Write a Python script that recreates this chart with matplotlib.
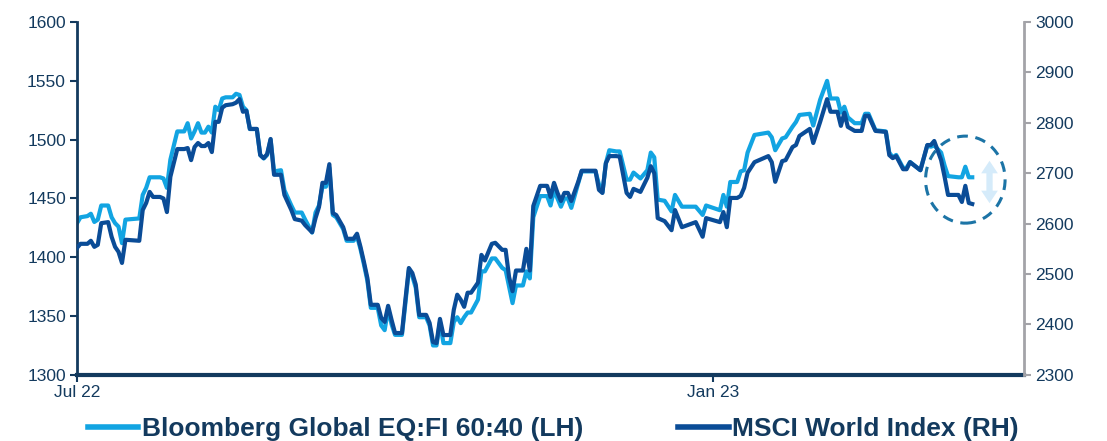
import matplotlib
matplotlib.use('Agg')
import matplotlib.pyplot as plt
import matplotlib.dates as mdates
from matplotlib.patches import Ellipse
from matplotlib.lines import Line2D
import pandas as pd

# dates (x axis)
dates = [
    '2022-07-01', '2022-07-02', '2022-07-04', '2022-07-05', '2022-07-06', '2022-07-07', '2022-07-08',
    '2022-07-10', '2022-07-11', '2022-07-12', '2022-07-13', '2022-07-14', '2022-07-15', '2022-07-19',
    '2022-07-20', '2022-07-21', '2022-07-22', '2022-07-23', '2022-07-25', '2022-07-26', '2022-07-27',
    '2022-07-28', '2022-07-30', '2022-08-01', '2022-08-02', '2022-08-03', '2022-08-04', '2022-08-05',
    '2022-08-06', '2022-08-07', '2022-08-08', '2022-08-09', '2022-08-10', '2022-08-11', '2022-08-12',
    '2022-08-13', '2022-08-15', '2022-08-16', '2022-08-17', '2022-08-18', '2022-08-19', '2022-08-20',
    '2022-08-22', '2022-08-23', '2022-08-24', '2022-08-25', '2022-08-26', '2022-08-27', '2022-08-29',
    '2022-08-30', '2022-09-01', '2022-09-02', '2022-09-04', '2022-09-05', '2022-09-07', '2022-09-08',
    '2022-09-09', '2022-09-10', '2022-09-11', '2022-09-12', '2022-09-13', '2022-09-14', '2022-09-16',
    '2022-09-17', '2022-09-19', '2022-09-20', '2022-09-21', '2022-09-22', '2022-09-23', '2022-09-24',
    '2022-09-26', '2022-09-27', '2022-09-28', '2022-09-29', '2022-09-30', '2022-10-01', '2022-10-03',
    '2022-10-04', '2022-10-05', '2022-10-06', '2022-10-07', '2022-10-08', '2022-10-10', '2022-10-11',
    '2022-10-12', '2022-10-13', '2022-10-14', '2022-10-15', '2022-10-17', '2022-10-18', '2022-10-19',
    '2022-10-20', '2022-10-21', '2022-10-22', '2022-10-23', '2022-10-25', '2022-10-26', '2022-10-27',
    '2022-10-29', '2022-10-30', '2022-11-01', '2022-11-02', '2022-11-03', '2022-11-04', '2022-11-05',
    '2022-11-07', '2022-11-08', '2022-11-09', '2022-11-10', '2022-11-12', '2022-11-14', '2022-11-15',
    '2022-11-16', '2022-11-17', '2022-11-18', '2022-11-19', '2022-11-20', '2022-11-21', '2022-11-23',
    '2022-11-24', '2022-11-28', '2022-11-29', '2022-11-30', '2022-12-01', '2022-12-02', '2022-12-04',
    '2022-12-05', '2022-12-07', '2022-12-08', '2022-12-09', '2022-12-11', '2022-12-13', '2022-12-14',
    '2022-12-15', '2022-12-16', '2022-12-18', '2022-12-20', '2022-12-21', '2022-12-23', '2022-12-27',
    '2022-12-29', '2022-12-30', '2023-01-03', '2023-01-04', '2023-01-05', '2023-01-06', '2023-01-08',
    '2023-01-09', '2023-01-10', '2023-01-11', '2023-01-13', '2023-01-17', '2023-01-18', '2023-01-19',
    '2023-01-21', '2023-01-22', '2023-01-24', '2023-01-25', '2023-01-26', '2023-01-29', '2023-01-30',
    '2023-02-01', '2023-02-03', '2023-02-04', '2023-02-06', '2023-02-07', '2023-02-08', '2023-02-09',
    '2023-02-11', '2023-02-13', '2023-02-14', '2023-02-15', '2023-02-17', '2023-02-20', '2023-02-21',
    '2023-02-22', '2023-02-23', '2023-02-25', '2023-02-26', '2023-02-27', '2023-03-02', '2023-03-04',
    '2023-03-05', '2023-03-06', '2023-03-08', '2023-03-09', '2023-03-10', '2023-03-13', '2023-03-14',
    '2023-03-15', '2023-03-16', '2023-03-17',
]

# Bloomberg Global EQ:FI 60:40, left axis
bbg_6040 = [
    1429, 1434, 1435, 1437, 1430, 1432, 1444, 1444, 1434, 1429, 1426, 1412, 1432, 1433,
    1453, 1459, 1468, 1468, 1468, 1467, 1459, 1483, 1507, 1507, 1514, 1501, 1507, 1514,
    1506, 1506, 1511, 1506, 1528, 1525, 1535, 1536, 1536, 1539, 1538, 1528, 1525, 1509,
    1509, 1487, 1484, 1487, 1500, 1473, 1474, 1457, 1444, 1438, 1438, 1432, 1421, 1438,
    1444, 1460, 1460, 1476, 1436, 1434, 1424, 1414, 1414, 1418, 1407, 1394, 1380, 1357,
    1357, 1342, 1338, 1356, 1343, 1334, 1334, 1361, 1389, 1384, 1374, 1349, 1349, 1342,
    1325, 1325, 1345, 1327, 1327, 1345, 1349, 1344, 1349, 1353, 1353, 1364, 1388, 1388,
    1399, 1399, 1391, 1389, 1375, 1361, 1376, 1376, 1388, 1382, 1434, 1452, 1452, 1444,
    1457, 1450, 1443, 1450, 1450, 1442, 1463, 1473, 1473, 1462, 1455, 1480, 1491, 1490,
    1490, 1466, 1466, 1472, 1467, 1474, 1489, 1485, 1449, 1448, 1439, 1453, 1443, 1443,
    1436, 1444, 1440, 1453, 1443, 1464, 1464, 1473, 1474, 1489, 1504, 1506, 1502, 1491,
    1501, 1502, 1511, 1515, 1521, 1522, 1512, 1534, 1550, 1535, 1535, 1523, 1528, 1519,
    1514, 1514, 1522, 1522, 1508, 1507, 1489, 1485, 1487, 1476, 1476, 1481, 1474, 1495,
    1494, 1495, 1489, 1478, 1469, 1468, 1468, 1477, 1468, 1468,
]

# MSCI World Index, right axis
msci_world = [
    2552, 2560, 2560, 2566, 2554, 2558, 2601, 2603, 2574, 2554, 2544, 2522, 2568, 2566,
    2627, 2641, 2663, 2653, 2653, 2650, 2623, 2693, 2748, 2748, 2750, 2726, 2752, 2760,
    2754, 2754, 2760, 2742, 2802, 2802, 2830, 2835, 2837, 2840, 2847, 2822, 2824, 2788,
    2788, 2736, 2730, 2738, 2768, 2697, 2697, 2657, 2627, 2609, 2606, 2597, 2583, 2611,
    2633, 2681, 2681, 2718, 2621, 2617, 2593, 2570, 2570, 2580, 2554, 2524, 2492, 2439,
    2439, 2413, 2405, 2437, 2409, 2383, 2383, 2449, 2512, 2502, 2479, 2419, 2419, 2403,
    2365, 2363, 2411, 2379, 2379, 2429, 2459, 2449, 2435, 2463, 2463, 2483, 2538, 2527,
    2560, 2562, 2548, 2548, 2494, 2466, 2507, 2507, 2550, 2507, 2635, 2675, 2675, 2653,
    2681, 2661, 2645, 2661, 2661, 2645, 2683, 2705, 2705, 2667, 2661, 2720, 2734, 2734,
    2733, 2661, 2653, 2669, 2663, 2691, 2714, 2700, 2611, 2605, 2587, 2627, 2593, 2603,
    2574, 2611, 2603, 2623, 2593, 2651, 2651, 2655, 2671, 2701, 2722, 2734, 2722, 2683,
    2724, 2726, 2752, 2756, 2774, 2788, 2760, 2802, 2847, 2822, 2822, 2794, 2820, 2792,
    2784, 2784, 2814, 2814, 2784, 2782, 2736, 2730, 2734, 2708, 2708, 2722, 2706, 2756,
    2756, 2764, 2726, 2693, 2657, 2657, 2643, 2675, 2641, 2639,
]

labels = ['Bloomberg Global EQ:FI 60:40 (LH)', 'MSCI World Index (RH)']
left_ticks = [1300, 1350, 1400, 1450, 1500, 1550, 1600]
right_ticks = [2300, 2400, 2500, 2600, 2700, 2800, 2900, 3000]

LIGHT = '#12a4e2'
DARK = '#0a4c97'
NAVY = '#133a5e'
GREY = '#a3a3a8'

plt.rcParams['font.family'] = ['Liberation Sans', 'DejaVu Sans']


def main():
    x = pd.to_datetime(dates)
    fig = plt.figure(figsize=(11.07, 4.41), dpi=100)
    ax = fig.add_axes([0.0696, 0.150, 0.8555, 0.800])
    ax2 = ax.twinx()

    ax.plot(x, bbg_6040, color=LIGHT, lw=3.0, solid_joinstyle='round')
    ax2.plot(x, msci_world, color=DARK, lw=3.0, solid_joinstyle='round')

    ax.set_xlim(pd.Timestamp('2022-07-01'), pd.Timestamp('2023-04-01'))
    ax.set_ylim(1300, 1600)
    ax2.set_ylim(2300, 3000)
    ax.set_yticks(left_ticks)
    ax2.set_yticks(right_ticks)

    ax.xaxis.set_major_locator(mdates.MonthLocator(bymonth=[1, 7]))
    ax.xaxis.set_major_formatter(mdates.DateFormatter('%b %y'))

    for a in (ax, ax2):
        for s in a.spines.values():
            s.set_visible(False)
    ax.spines['left'].set_visible(True)
    ax.spines['left'].set_color(NAVY)
    ax.spines['left'].set_linewidth(2)
    ax.spines['bottom'].set_visible(True)
    ax.spines['bottom'].set_color(NAVY)
    ax.spines['bottom'].set_linewidth(3)
    ax2.spines['right'].set_visible(True)
    ax2.spines['right'].set_color(GREY)
    ax2.spines['right'].set_linewidth(2)

    ax.tick_params(axis='y', colors=NAVY, labelsize=12.5, length=5, width=1.5, pad=3)
    ax.tick_params(axis='x', colors=NAVY, labelsize=12.5, length=5, width=1.5, pad=2)
    ax2.tick_params(axis='y', colors=GREY, labelcolor=NAVY, labelsize=12.5, length=5, width=1.5, pad=3)

    # dashed circle and double arrow around the latest divergence
    cx = mdates.date2num(pd.Timestamp('2023-03-15'))
    ax.add_patch(Ellipse((cx, 1466), width=23, height=74, fill=False,
                         edgecolor='#1c74a6', lw=2.2, ls=(0, (3.5, 2.5)), zorder=5))
    ax_x = pd.Timestamp('2023-03-22')
    for tip in (1482, 1446):
        ax.annotate('', xy=(ax_x, tip), xytext=(ax_x, 1464),
                    arrowprops=dict(arrowstyle='simple,head_width=1.2,head_length=0.9,tail_width=0.45',
                                    mutation_scale=10, fc='#d5ebfa', ec='none', lw=0,
                                    shrinkA=0, shrinkB=0), zorder=4)

    handles = [Line2D([], [], color=LIGHT, lw=4), Line2D([], [], color=DARK, lw=4)]
    fig.legend(handles, labels, loc='center', bbox_to_anchor=(0.5, 0.027), ncol=2,
               frameon=False, handlelength=1.9, handletextpad=0.15, columnspacing=3.6,
               prop={'weight': 'bold', 'size': 19}, labelcolor=NAVY)

    fig.savefig('out.png', dpi=100)


if __name__ == '__main__':
    main()
